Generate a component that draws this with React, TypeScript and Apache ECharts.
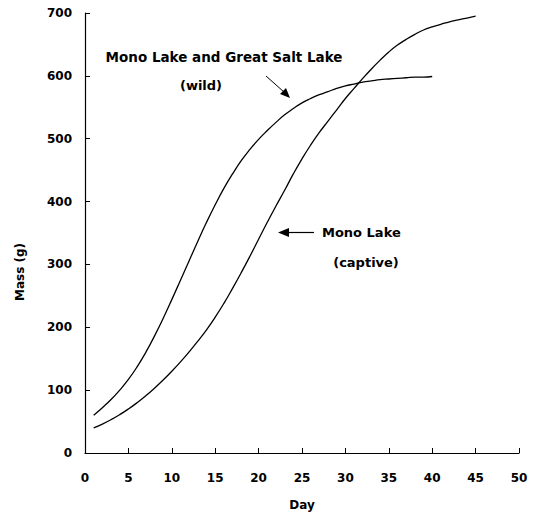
import React, { useEffect, useRef } from "react";
import * as echarts from "echarts";

// Mono Lake and Great Salt Lake (wild)
const wildDays = [1, 2, 3, 4, 5, 6, 7, 8, 9, 10, 11, 12, 13, 14, 15, 16, 17, 18, 19, 20, 21, 22, 23, 24, 25, 26, 27, 28, 29, 30, 31, 32, 33, 34, 35, 36, 37, 38, 39, 40];
const wildMass = [60, 72, 85, 100, 117, 137, 160, 186, 214, 244, 275, 306, 337, 367, 395, 421, 444, 465, 483, 499, 513, 526, 538, 548, 557, 564, 570, 575, 580, 584, 587, 590, 592, 594, 595, 596, 597, 598, 598, 599];

// Mono Lake (captive)
const captiveDays = [1, 2, 3, 4, 5, 6, 7, 8, 9, 10, 11, 12, 13, 14, 15, 16, 17, 18, 19, 20, 21, 22, 23, 24, 25, 26, 27, 28, 29, 30, 31, 32, 33, 34, 35, 36, 37, 38, 39, 40, 41, 42, 43, 44, 45];
const captiveMass = [40, 46, 53, 61, 70, 80, 91, 103, 116, 130, 145, 161, 178, 196, 216, 238, 262, 287, 313, 340, 367, 393, 418, 444, 468, 490, 510, 528, 546, 564, 580, 596, 611, 625, 638, 649, 658, 666, 673, 678, 682, 686, 689, 692, 695];

const xTicks = [0, 5, 10, 15, 20, 25, 30, 35, 40, 45, 50];
const yTicks = [0, 100, 200, 300, 400, 500, 600, 700];

const FONT = "DejaVu Sans";

export default function App() {
  const ref = useRef<HTMLDivElement>(null);
  useEffect(() => {
    if (!ref.current) return;
    const chart = echarts.init(ref.current, null, { renderer: "svg" });
    const wild = wildDays.map((d, i) => [d, wildMass[i]]);
    const captive = captiveDays.map((d, i) => [d, captiveMass[i]]);
    const labelStyle = { color: "#000", fontFamily: FONT, fontWeight: "bold" as const, fontSize: 12 };
    chart.setOption({
      animation: false,
      backgroundColor: "#fff",
      grid: { left: 85, right: 15, top: 13, bottom: 65, containLabel: false },
      xAxis: {
        type: "value",
        min: xTicks[0],
        max: xTicks[xTicks.length - 1],
        interval: 5,
        name: "Day",
        nameLocation: "middle",
        nameGap: 46,
        nameTextStyle: { ...labelStyle, fontSize: 12 },
        axisLine: { show: true, lineStyle: { color: "#000", width: 1.2 } },
        axisTick: { show: true, inside: true, length: 5, lineStyle: { color: "#000", width: 1 } },
        axisLabel: { ...labelStyle, margin: 19, showMaxLabel: true, showMinLabel: true },
        splitLine: { show: false },
      },
      yAxis: {
        type: "value",
        min: yTicks[0],
        max: yTicks[yTicks.length - 1],
        interval: 100,
        axisLine: { show: true, lineStyle: { color: "#000", width: 1.2 } },
        axisTick: { show: true, inside: true, length: 5, lineStyle: { color: "#000", width: 1 } },
        axisLabel: { ...labelStyle, margin: 13 },
        splitLine: { show: false },
      },
      series: [
        {
          name: "Mono Lake and Great Salt Lake (wild)",
          type: "line",
          data: wild,
          smooth: true,
          showSymbol: false,
          lineStyle: { color: "#000", width: 1.3 },
        },
        {
          name: "Mono Lake (captive)",
          type: "line",
          data: captive,
          smooth: true,
          showSymbol: false,
          lineStyle: { color: "#000", width: 1.3 },
        },
      ],
      graphic: [
        {
          type: "text",
          x: 20,
          y: 272,
          rotation: Math.PI / 2,
          style: { text: "Mass (g)", fill: "#000", font: `bold 12px "${FONT}"`, align: "center", verticalAlign: "middle" },
        },
        {
          type: "text",
          x: 224,
          y: 57,
          style: { text: "Mono Lake and Great Salt Lake", fill: "#000", font: `bold 13.5px "${FONT}"`, align: "center", verticalAlign: "middle" },
        },
        {
          type: "text",
          x: 201,
          y: 85,
          style: { text: "(wild)", fill: "#000", font: `bold 13px "${FONT}"`, align: "center", verticalAlign: "middle" },
        },
        {
          type: "line",
          shape: { x1: 266, y1: 76, x2: 284, y2: 92 },
          style: { stroke: "#000", lineWidth: 1 },
        },
        {
          type: "polygon",
          shape: { points: [[290, 98], [280, 94], [286, 88]] },
          style: { fill: "#000" },
        },
        {
          type: "text",
          x: 322,
          y: 232,
          style: { text: "Mono Lake", fill: "#000", font: `bold 13px "${FONT}"`, align: "left", verticalAlign: "middle" },
        },
        {
          type: "text",
          x: 366,
          y: 262,
          style: { text: "(captive)", fill: "#000", font: `bold 13px "${FONT}"`, align: "center", verticalAlign: "middle" },
        },
        {
          type: "line",
          shape: { x1: 286, y1: 232.5, x2: 314, y2: 232.5 },
          style: { stroke: "#000", lineWidth: 1.2 },
        },
        {
          type: "polygon",
          shape: { points: [[278, 232.5], [289, 228], [289, 237]] },
          style: { fill: "#000" },
        },
      ],
    });
    return () => chart.dispose();
  }, []);
  return <div ref={ref} style={{ position: "fixed", left: 0, top: 0, width: 534, height: 518 }} />;
}
